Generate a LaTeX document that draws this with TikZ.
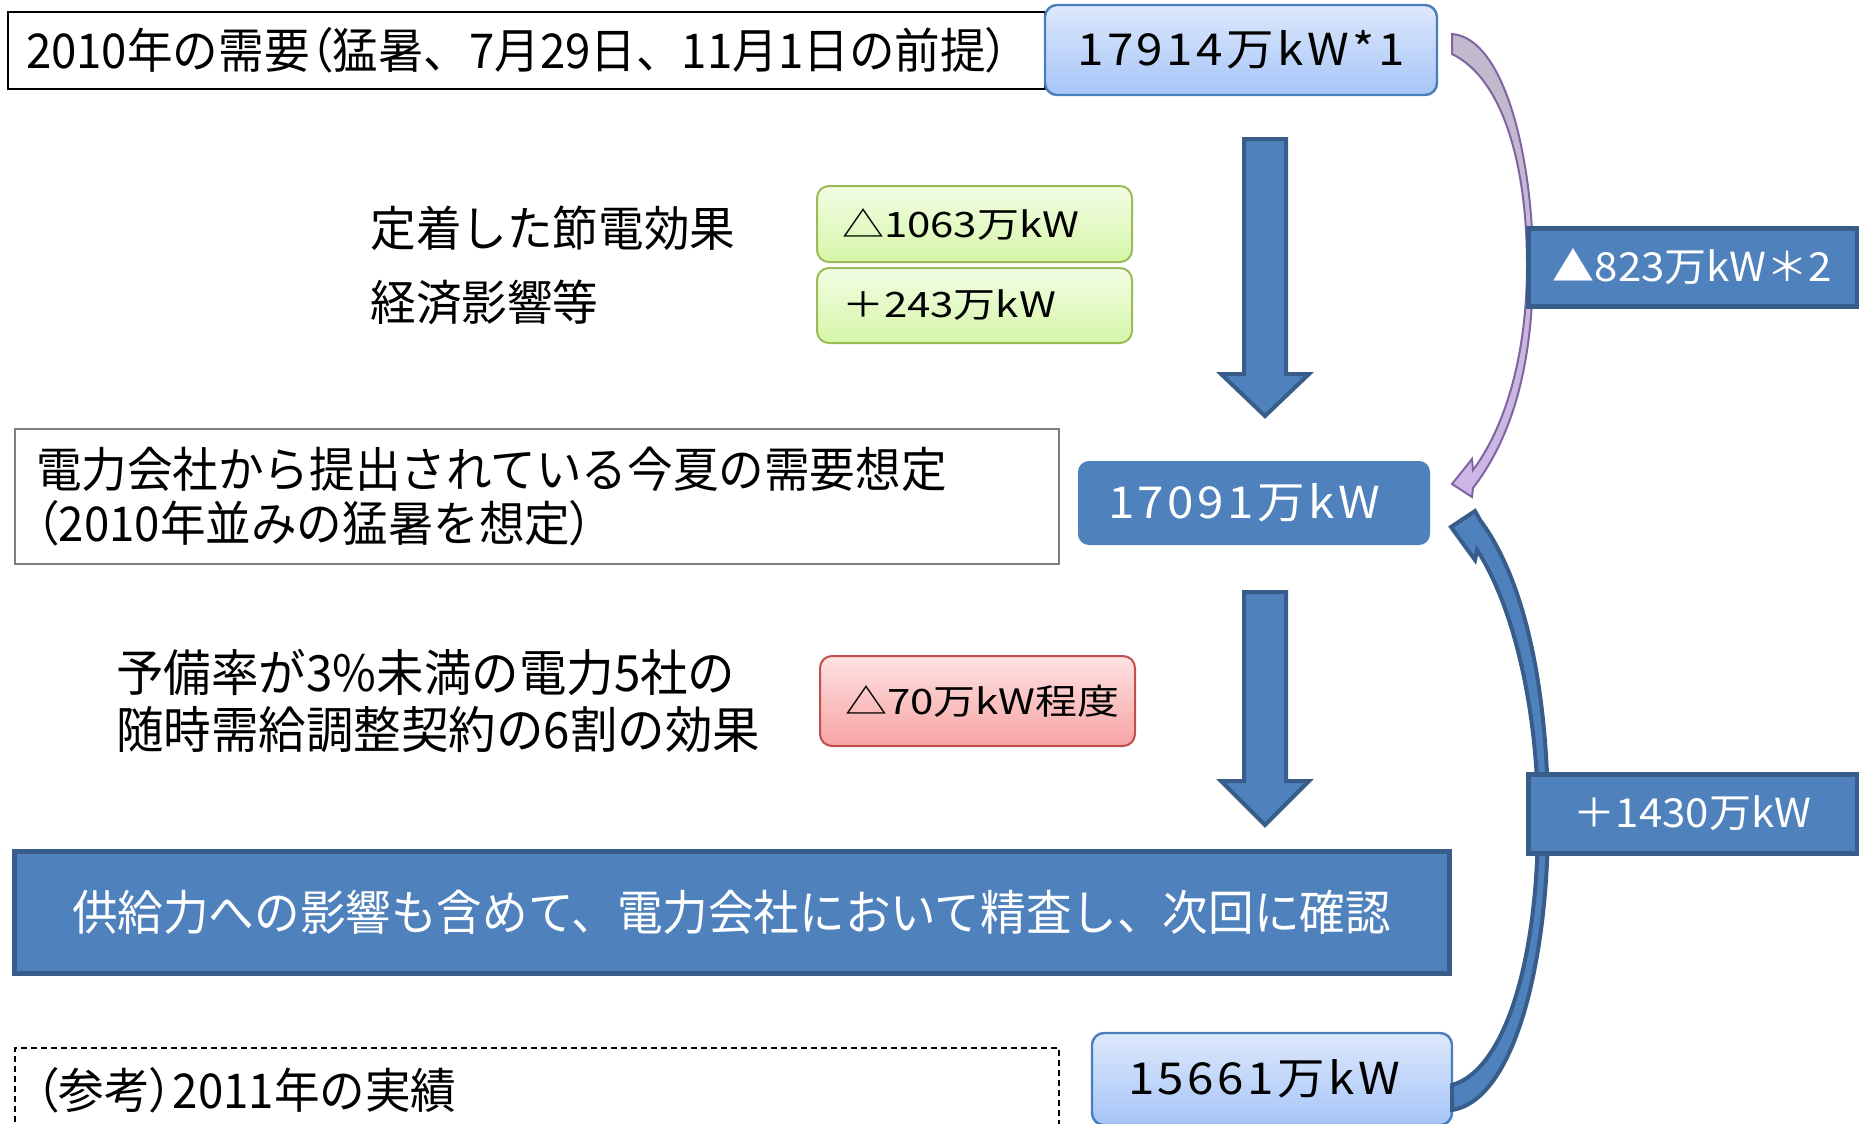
\documentclass[tikz,border=0pt]{standalone}
\usepackage{fontspec}
\newfontfamily\jpm[FakeStretch=0.95]{Noto Sans CJK JP}
\newfontfamily\jpmp[FakeStretch=0.95,RawFeature=+palt]{Noto Sans CJK JP}
\newfontfamily\jpv[FakeStretch=1.08,LetterSpace=8]{Noto Sans CJK JP}
\newfontfamily\jpg[FakeStretch=1.2]{Noto Sans CJK JP}
\newfontfamily\jpr[FakeStretch=1.05]{Noto Sans CJK JP}
\definecolor{bfill}{HTML}{4F81BD}
\definecolor{bdraw}{HTML}{385D8A}
\definecolor{lbtop}{HTML}{DDE8FC}
\definecolor{lbbot}{HTML}{A6C5F7}
\definecolor{lbdraw}{HTML}{4A7EBB}
\definecolor{gtop}{HTML}{F3FDE4}
\definecolor{gbot}{HTML}{D5F6A8}
\definecolor{gdraw}{HTML}{9BBB59}
\definecolor{rtop}{HTML}{FEE2E2}
\definecolor{rbot}{HTML}{F7A3A3}
\definecolor{rdraw}{HTML}{C0504D}
\definecolor{ptop}{HTML}{BFBACB}
\definecolor{pbot}{HTML}{CDB7E7}
\definecolor{pdraw}{HTML}{8064A2}
\definecolor{gray3}{HTML}{7F7F7F}
\newcommand{\pp}[1]{{\jpmp #1}}
\begin{document}
\begin{tikzpicture}[x=0.5pt,y=-0.5pt,
  mainfont/.style={font=\jpm\fontsize{24pt}{27pt}\selectfont},
  plainbox/.style={draw=black, line width=0.75pt, fill=white, inner sep=0pt, mainfont},
  valbox/.style={draw=lbdraw, line width=1.2pt, rounded corners=6pt, top color=lbtop, bottom color=lbbot,
     inner sep=0pt, font=\jpv\fontsize{22pt}{24pt}\selectfont},
  valfill/.style={draw=bfill, line width=1pt, rounded corners=5pt, fill=bfill, text=white,
     inner sep=0pt, font=\jpv\fontsize{22pt}{24pt}\selectfont},
  greenbox/.style={draw=gdraw, line width=1pt, rounded corners=6pt, top color=gtop, bottom color=gbot,
     inner sep=0pt, font=\jpg\fontsize{17.5pt}{20pt}\selectfont},
  redbox/.style={draw=rdraw, line width=1pt, rounded corners=6pt, top color=rtop, bottom color=rbot,
     inner sep=0pt, font=\jpg\fontsize{17.5pt}{20pt}\selectfont},
  bigbox/.style={draw=bdraw, line width=2.5pt, fill=bfill, text=white, inner sep=0pt, mainfont},
  sidebox/.style={draw=bdraw, line width=2.5pt, fill=bfill, text=white, inner sep=0pt,
     font=\jpr\fontsize{20pt}{22pt}\selectfont},
  txt/.style={inner sep=0pt, mainfont, align=left},
  downarrow/.style={draw=bdraw, line width=2pt, fill=bfill, line join=miter},
  parrow/.style={draw=pdraw, line width=1pt, top color=ptop, bottom color=pbot, line join=miter},
  barrow/.style={draw=bdraw, line width=2pt, fill=bfill, line join=miter}
]
\useasboundingbox (0,0) rectangle (1859,1124);

% top row
\node[plainbox, minimum width=518.5pt, minimum height=38.5pt, text width=500.5pt, align=left, inner xsep=9pt]
  (d2010) at (526.5,50.5) {2010年の需要\pp{（}猛暑、7月29日、11月1日の前提\pp{）}};
\node[valbox, minimum width=196pt, minimum height=45pt] (v1) at (1241,50) {17914万kW*1};

% first down arrow
\draw[downarrow] (1244,139) -- (1286,139) -- (1286,374) -- (1309,374) -- (1265,416) -- (1221,374) -- (1244,374) -- cycle;

\node[txt, anchor=west] (t1) at (370,228) {定着した節電効果};
\node[txt, anchor=west] (t2) at (370,302) {経済影響等};
\node[greenbox, minimum width=157.5pt, minimum height=38pt, text width=132.5pt, align=left, inner xsep=12.5pt]
  (g1) at (974.5,224) {△1063万kW};
\node[greenbox, minimum width=157.5pt, minimum height=37.5pt, text width=132.5pt, align=left, inner xsep=12.5pt]
  (g2) at (974.5,305.5) {＋243万kW};

% middle row
\node[plainbox, draw=gray3, minimum width=522pt, minimum height=67.5pt, text width=501pt, align=left, inner xsep=10.5pt]
  (d2012) at (537,496.5) {電力会社から提出されている今夏の需要想定\\\pp{（}2010年並みの猛暑を想定\pp{）}};
\node[valfill, minimum width=175pt, minimum height=41pt] (v2) at (1254,503) {17091万kW\hspace*{10pt}};

% second down arrow
\draw[downarrow] (1244,592) -- (1286,592) -- (1286,781) -- (1309,781) -- (1265,825) -- (1221,781) -- (1244,781) -- cycle;

\node[txt, anchor=west, font=\jpm\fontsize{25pt}{28.5pt}\selectfont] (t3) at (116,700.5) {予備率が3\%未満の電力5社の\\随時需給調整契約の6割の効果};
\node[redbox, minimum width=157.5pt, minimum height=45pt, text width=132.5pt, align=left, inner xsep=12.5pt]
  (rd) at (977.5,701) {△70万kW程度};

% big box
\node[bigbox, minimum width=717.5pt, minimum height=61pt] (big) at (731.5,912) {供給力への影響も含めて、電力会社において精査し、次回に確認};

% bottom row
\node[plainbox, dashed, dash pattern=on 3pt off 2pt, minimum width=522pt, minimum height=42pt, text width=501pt, align=left, inner xsep=10.5pt]
  (ref) at (537,1090) {\pp{（}参考\pp{）}2011年の実績};
\node[valbox, minimum width=180pt, minimum height=46pt] (v3) at (1272,1079) {15661万kW\hspace*{8pt}};

% curved arrows
\draw[parrow] (1452,34) .. controls (1505,38) and (1533,160) .. (1533,265)
  .. controls (1533,370) and (1510,440) .. (1473,488) -- (1472,497) -- (1452,484) -- (1472,459) -- (1473,470)
  .. controls (1503,430) and (1527,360) .. (1527,265)
  .. controls (1527,170) and (1505,80) .. (1452,54) -- cycle;
\draw[barrow] (1452,1110) .. controls (1515,1100) and (1548,960) .. (1548,820)
  .. controls (1548,690) and (1525,580) .. (1480,520) -- (1475,511) -- (1451,527) -- (1475,560) -- (1477,550)
  .. controls (1510,600) and (1538,700) .. (1538,820)
  .. controls (1538,960) and (1505,1070) .. (1452,1085) -- cycle;

% side labels
\node[sidebox, minimum width=164.5pt, minimum height=39pt] (s1) at (1692.5,267) {▲823万kW＊2};
\node[sidebox, minimum width=164.5pt, minimum height=39.5pt] (s2) at (1692.5,813.5) {＋1430万kW};
\end{tikzpicture}
\end{document}
